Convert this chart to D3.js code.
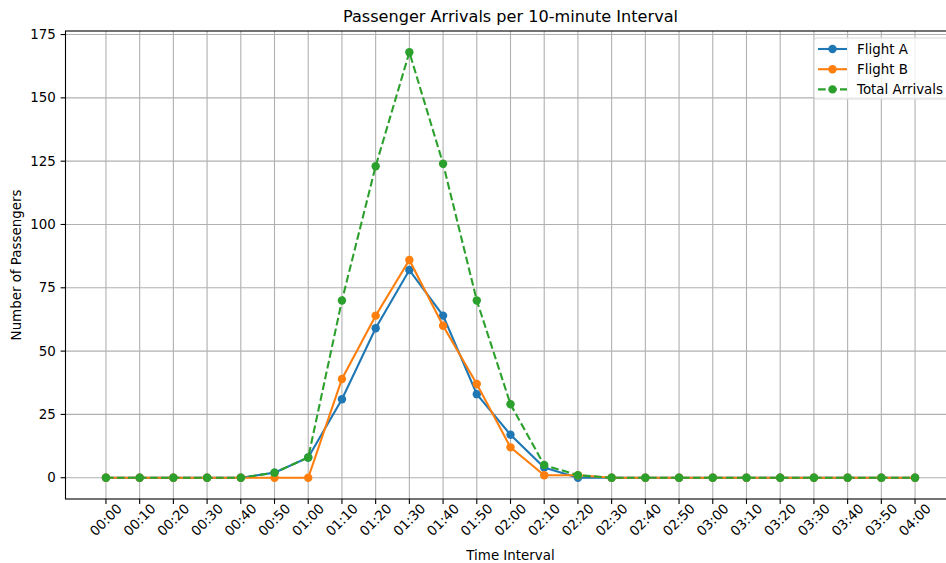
<!DOCTYPE html>
<html>
<head>
<meta charset="utf-8">
<script src="https://cdn.jsdelivr.net/npm/d3@7"></script>
<style>
  body { margin: 0; background: #fff; }
  text { font-family: "DejaVu Sans", sans-serif; fill: #000; }
  .grid line { stroke: #b0b0b0; stroke-width: 1.1; }
</style>
</head>
<body>
<div id="chart"></div>
<script>
// data
const times = ["00:00","00:10","00:20","00:30","00:40","00:50","01:00","01:10","01:20",
  "01:30","01:40","01:50","02:00","02:10","02:20","02:30","02:40","02:50","03:00",
  "03:10","03:20","03:30","03:40","03:50","04:00"];
const flightA = [0,0,0,0,0,2,8,31,59,82,64,33,17,4,0,0,0,0,0,0,0,0,0,0,0];
const flightB = [0,0,0,0,0,0,0,39,64,86,60,37,12,1,1,0,0,0,0,0,0,0,0,0,0];
const total   = [0,0,0,0,0,2,8,70,123,168,124,70,29,5,1,0,0,0,0,0,0,0,0,0,0];
const yTicks  = [0,25,50,75,100,125,150,175];

const series = [
  {name: "Flight A", values: flightA, color: "#1f77b4", dash: null},
  {name: "Flight B", values: flightB, color: "#ff7f0e", dash: null},
  {name: "Total Arrivals", values: total, color: "#2ca02c", dash: "7.7,3.3"}
];

const W = 946, H = 563;
const AX = {LEFT: 65.5, RIGHT: 955.5, TOP: 31, BOTTOM: 499};
const FS = "13.4px";

const svg = d3.select("#chart").append("svg")
  .attr("width", W).attr("height", H);

// matplotlib style 5% margins
const n = times.length - 1;
const x = d3.scaleLinear().domain([-0.05 * n, n * 1.05]).range([AX.LEFT, AX.RIGHT]);
const yMax = d3.max(total);
const y = d3.scaleLinear().domain([-0.05 * yMax, yMax * 1.05]).range([AX.BOTTOM, AX.TOP]);

// grid
const grid = svg.append("g").attr("class", "grid");
grid.selectAll(".gx").data(times).enter().append("line")
  .attr("x1", (d, i) => x(i)).attr("x2", (d, i) => x(i))
  .attr("y1", AX.TOP).attr("y2", AX.BOTTOM);
grid.selectAll(".gy").data(yTicks).enter().append("line")
  .attr("x1", AX.LEFT).attr("x2", AX.RIGHT)
  .attr("y1", d => y(d)).attr("y2", d => y(d));

// lines + markers
const line = d3.line().x((d, i) => x(i)).y(d => y(d));
series.forEach(s => {
  const g = svg.append("g");
  g.append("path")
    .attr("d", line(s.values))
    .attr("fill", "none")
    .attr("stroke", s.color)
    .attr("stroke-width", 2.1)
    .attr("stroke-dasharray", s.dash);
  g.selectAll("circle").data(s.values).enter().append("circle")
    .attr("cx", (d, i) => x(i)).attr("cy", d => y(d))
    .attr("r", 4.2).attr("fill", s.color);
});

// frame
svg.append("rect")
  .attr("x", AX.LEFT).attr("y", AX.TOP)
  .attr("width", AX.RIGHT - AX.LEFT).attr("height", AX.BOTTOM - AX.TOP)
  .attr("fill", "none").attr("stroke", "#000").attr("stroke-width", 1.1);

// x axis
const xAxis = svg.append("g").attr("transform", `translate(0,${AX.BOTTOM})`);
times.forEach((t, i) => {
  xAxis.append("line").attr("x1", x(i)).attr("x2", x(i)).attr("y1", 0).attr("y2", 4.9)
    .attr("stroke", "#000").attr("stroke-width", 1.1);
  xAxis.append("text")
    .attr("transform", `translate(${x(i)},21) rotate(-45)`)
    .attr("text-anchor", "middle")
    .attr("dominant-baseline", "central")
    .style("font-size", FS)
    .text(t);
});

// y axis
const yAxis = svg.append("g").attr("transform", `translate(${AX.LEFT},0)`);
yTicks.forEach(v => {
  yAxis.append("line").attr("x1", 0).attr("x2", -4.9).attr("y1", y(v)).attr("y2", y(v))
    .attr("stroke", "#000").attr("stroke-width", 1.1);
  yAxis.append("text")
    .attr("x", -9.7).attr("y", y(v))
    .attr("text-anchor", "end")
    .attr("dominant-baseline", "central")
    .style("font-size", FS)
    .text(v);
});

// labels
const cx = (AX.LEFT + AX.RIGHT) / 2;
svg.append("text").attr("x", cx).attr("y", 22)
  .attr("text-anchor", "middle").style("font-size", "16.1px")
  .text("Passenger Arrivals per 10-minute Interval");
svg.append("text").attr("x", cx).attr("y", 560)
  .attr("text-anchor", "middle").style("font-size", FS)
  .text("Time Interval");
svg.append("text")
  .attr("transform", `translate(21,${(AX.TOP + AX.BOTTOM) / 2}) rotate(-90)`)
  .attr("text-anchor", "middle").style("font-size", FS)
  .text("Number of Passengers");

// legend
const leg = svg.append("g").attr("transform", "translate(814,38)");
leg.append("rect").attr("x", 0).attr("y", 0).attr("width", 134).attr("height", 61)
  .attr("rx", 2.8).attr("fill", "#fff").attr("fill-opacity", 0.8)
  .attr("stroke", "#d9d9d9").attr("stroke-width", 1.1);
series.forEach((s, i) => {
  const ly = 11 + i * 20.2;
  leg.append("line").attr("x1", 4).attr("x2", 33).attr("y1", ly).attr("y2", ly)
    .attr("stroke", s.color).attr("stroke-width", 2.1)
    .attr("stroke-dasharray", s.dash);
  leg.append("circle").attr("cx", 18.5).attr("cy", ly).attr("r", 4.2).attr("fill", s.color);
  leg.append("text").attr("x", 43).attr("y", ly)
    .attr("dominant-baseline", "central").style("font-size", FS)
    .text(s.name);
});
</script>
</body>
</html>
